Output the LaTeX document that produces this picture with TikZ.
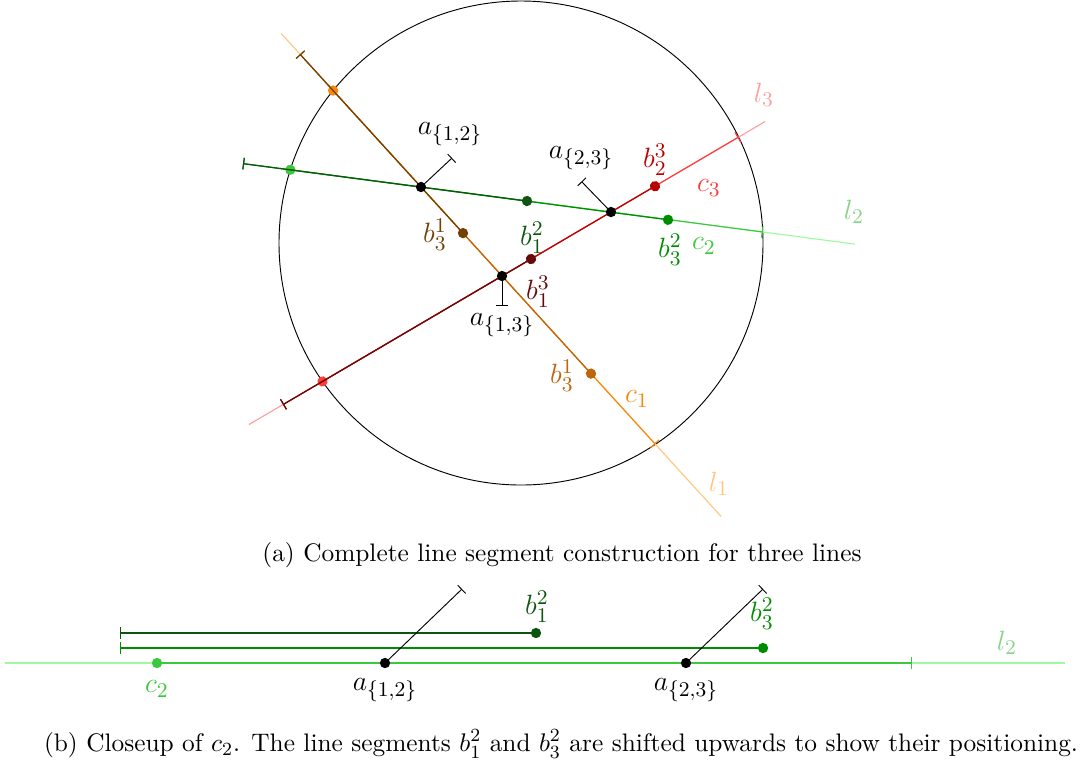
\documentclass[tikz,border=0pt]{standalone}
\usepackage{amsmath,amssymb}
\usetikzlibrary{arrows.meta}

\definecolor{lonepale}{RGB}{255,200,130}
\definecolor{lonechord}{RGB}{250,135,10}
\definecolor{lonedark}{RGB}{115,65,5}
\definecolor{lonemid}{RGB}{190,100,10}
\definecolor{ltwopale}{RGB}{160,250,160}
\definecolor{ltwochord}{RGB}{60,200,60}
\definecolor{ltwodark}{RGB}{15,85,15}
\definecolor{ltwomid}{RGB}{0,140,0}
\definecolor{lthreepale}{RGB}{255,160,160}
\definecolor{lthreechord}{RGB}{255,60,60}
\definecolor{lthreedark}{RGB}{105,10,10}
\definecolor{lthreemid}{RGB}{185,0,0}

\begin{document}
\begin{tikzpicture}[x=0.43pt,y=-0.43pt]
\tikzset{
  pale/.style={line width=0.5pt},
  chord/.style={line width=0.5pt,{Circle[length=4.4pt]}-{Bar[width=5pt]},shorten <=-2.2pt},
  bseg/.style={line width=0.5pt,{Bar[width=5pt]}-{Circle[length=4.4pt]},shorten >=-2.2pt},
  perp/.style={thin,black,{Circle[length=4.4pt]}-{Bar[width=5pt]},shorten <=-2.2pt},
  lbl/.style={font=\fontsize{13}{15}\selectfont,inner sep=0pt},
  caption/.style={font=\fontsize{10.9}{13}\selectfont}
}
\useasboundingbox (0,0) rectangle (1084,765);

% (a) complete construction
\coordinate (o) at (521,243);
\coordinate (l1s) at (281,33.3);
\coordinate (l1e) at (721,516.3);
\coordinate (t1) at (300,54.2);
\coordinate (p1a) at (333.1,90.5);
\coordinate (p1b) at (655.3,444.2);
\coordinate (b31a) at (463,233.1);
\coordinate (b31b) at (591,373.6);
\coordinate (t2) at (243,163.6);
\coordinate (l2e) at (855,244.1);
\coordinate (p2a) at (290.3,169.8);
\coordinate (p2b) at (762.8,232);
\coordinate (b12) at (527,201);
\coordinate (b32) at (668,219.8);
\coordinate (l3s) at (249,424.5);
\coordinate (l3e) at (765,121.6);
\coordinate (t3) at (283,404.6);
\coordinate (p3a) at (322.5,381.4);
\coordinate (p3b) at (738.5,137.1);
\coordinate (b13) at (531,259);
\coordinate (b23) at (655,186.2);
\coordinate (a12) at (421,187);
\coordinate (a13) at (502,276);
\coordinate (a23) at (611,212);
\coordinate (q12) at (452,158);
\coordinate (q13) at (502,306);
\coordinate (q23) at (581.5,181.5);

\draw[thin] (o) circle[radius=242];

\draw[pale,lonepale] (l1s) -- (l1e);
\draw[pale,ltwopale] (t2) -- (l2e);
\draw[pale,lthreepale] (l3s) -- (l3e);

\draw[chord,lonechord] (p1a) -- (p1b);
\draw[chord,ltwochord] (p2a) -- (p2b);
\draw[chord,lthreechord] (p3a) -- (p3b);

\draw[bseg,lonemid] (t1) -- (b31b);
\draw[bseg,lonedark] (t1) -- (b31a);
\draw[bseg,ltwomid] (t2) -- (b32);
\draw[bseg,ltwodark] (t2) -- (b12);
\draw[bseg,lthreemid] (t3) -- (b23);
\draw[bseg,lthreedark] (t3) -- (b13);

\draw[perp] (a12) -- (q12);
\draw[perp] (a13) -- (q13);
\draw[perp] (a23) -- (q23);

\node[lbl] (la12) at (450,134) {$a_{\{1,2\}}$};
\node[lbl] (la23) at (581,158) {$a_{\{2,3\}}$};
\node[lbl] (la13) at (502,325) {$a_{\{1,3\}}$};
\node[lbl,lonedark] (lb31a) at (435,235) {$b_3^1$};
\node[lbl,lonemid] (lb31b) at (562,376) {$b_3^1$};
\node[lbl,ltwodark] (lb12) at (532,238) {$b_1^2$};
\node[lbl,ltwomid] (lb32) at (670,250) {$b_3^2$};
\node[lbl,lthreedark] (lb13) at (538,292) {$b_1^3$};
\node[lbl,lthreemid] (lb23) at (655,160) {$b_2^3$};
\node[lbl,lonechord] (lc1) at (637,399) {$c_1$};
\node[lbl,ltwochord] (lc2) at (704,246) {$c_2$};
\node[lbl,lthreechord] (lc3) at (709,188) {$c_3$};
\node[lbl,lonepale] (ll1) at (719,484) {$l_1$};
\node[lbl,ltwopale!85!black] (ll2) at (854,212) {$l_2$};
\node[lbl,lthreepale] (ll3) at (764,95) {$l_3$};

\node[caption] (capa) at (562,555) {(a) Complete line segment construction for three lines};

% (b) closeup of c_2
\coordinate (m2s) at (5,663);
\coordinate (m2e) at (1065,663);
\coordinate (m2a) at (157,663);
\coordinate (m2b) at (912,663);
\coordinate (m12) at (385,663);
\coordinate (m23) at (686,663);
\coordinate (n12) at (462,589);
\coordinate (n23) at (763,589);
\coordinate (s12) at (120,633);
\coordinate (e12) at (536,633);
\coordinate (s32) at (120,648);
\coordinate (e32) at (763,648);

\draw[pale,ltwopale] (m2s) -- (m2e);
\draw[chord,ltwochord] (m2a) -- (m2b);
\draw[bseg,ltwodark] (s12) -- (e12);
\draw[bseg,ltwomid] (s32) -- (e32);
\draw[perp] (m12) -- (n12);
\draw[perp] (m23) -- (n23);

\node[lbl,ltwochord] (mc2) at (157,689) {$c_2$};
\node[lbl] (ma12) at (385,690) {$a_{\{1,2\}}$};
\node[lbl] (ma23) at (686,690) {$a_{\{2,3\}}$};
\node[lbl,ltwodark] (mb12) at (537,607) {$b_1^2$};
\node[lbl,ltwomid] (mb32) at (762,614) {$b_3^2$};
\node[lbl,ltwopale!85!black] (ml2) at (1007,643) {$l_2$};

\node[caption] (capb) at (561,744) {(b) Closeup of $c_2$. The line segments $b_1^2$ and $b_3^2$ are shifted upwards to show their positioning.};
\end{tikzpicture}
\end{document}
